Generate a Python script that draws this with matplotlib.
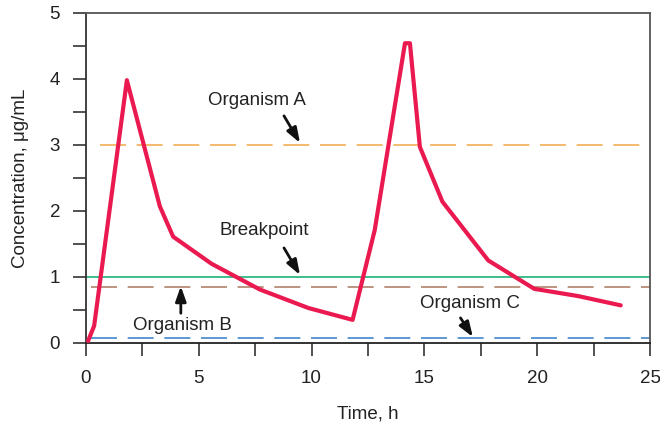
import matplotlib
matplotlib.use("Agg")
import matplotlib.pyplot as plt
import numpy as np

plt.rcParams['font.family'] = ['Liberation Sans', 'DejaVu Sans']

time_h = [0.1, 0.37, 1.82, 3.28, 3.87, 5.57, 7.71, 9.86, 11.82, 12.8, 14.14, 14.36, 14.8, 15.8, 17.83, 19.87, 21.82, 23.7]
conc = [0.03, 0.26, 3.98, 2.07, 1.61, 1.2, 0.81, 0.53, 0.35, 1.71, 4.54, 4.54, 2.97, 2.14, 1.25, 0.82, 0.71, 0.57]

level_names = ["Organism A", "Breakpoint", "Organism B", "Organism C"]
level_values = [3.0, 1.0, 0.85, 0.08]

fig = plt.figure(figsize=(6.6, 4.29), dpi=100)
ax = fig.add_axes([0.130, 0.2005, 0.855, 0.7695])

ax.set_xlim(0, 25)
ax.set_ylim(0, 5)

dash = (0, (17, 7))
ax.hlines(level_values[0], 0.65, 25, colors='#f3a847', linestyles=dash, lw=1.1)
ax.axhline(level_values[1], color='#2fb982', lw=1.3)
ax.hlines(level_values[2], 0.25, 25, colors='#a9785e', linestyles=dash, lw=1.1)
ax.hlines(level_values[3], 0.25, 25, colors='#2f7cc6', linestyles=dash, lw=1.1)

ax.plot(time_h, conc, color='#ea1a50', lw=3.0, solid_joinstyle='round', solid_capstyle='round', zorder=5)

arrowprops = dict(arrowstyle='-|>,head_length=0.9,head_width=0.32', color='#111111', lw=2.0, shrinkA=0, shrinkB=0)
fs = 13.5
tc = '#222222'
ax.text(7.6, 3.68, level_names[0], ha='center', va='center', fontsize=fs, color=tc)
ax.annotate('', xy=(9.49, 3.03), xytext=(8.78, 3.44), arrowprops=arrowprops)
ax.text(7.9, 1.71, level_names[1], ha='center', va='center', fontsize=fs, color=tc)
ax.annotate('', xy=(9.49, 1.03), xytext=(8.78, 1.44), arrowprops=arrowprops)
ax.text(4.3, 0.27, level_names[2], ha='center', va='center', fontsize=fs, color=tc)
ax.annotate('', xy=(4.21, 0.86), xytext=(4.21, 0.45), arrowprops=arrowprops)
ax.text(17.0, 0.6, level_names[3], ha='center', va='center', fontsize=fs, color=tc)
ax.annotate('', xy=(17.15, 0.09), xytext=(16.6, 0.38), arrowprops=arrowprops)

ax.set_xticks(np.arange(0, 25.1, 2.5))
ax.set_xticklabels(['0', '', '5', '', '10', '', '15', '', '20', '', '25'])
ax.set_yticks(np.arange(0, 5.01, 0.5))
ax.set_yticklabels(['0', '', '1', '', '2', '', '3', '', '4', '', '5'])
ax.tick_params(axis='x', direction='out', length=9.5, width=1.2, color='#333333', labelsize=13.5, pad=10, labelcolor=tc)
ax.tick_params(axis='y', direction='out', length=9.5, width=1.2, color='#333333', labelsize=13.5, pad=9, labelcolor=tc)

for s in ax.spines.values():
    s.set_color('#555555')
    s.set_linewidth(1.3)
ax.spines['left'].set_color('#333333')
ax.spines['bottom'].set_color('#222222')

ax.set_xlabel('Time, h', fontsize=13.5, color=tc, labelpad=13)
ax.set_ylabel('Concentration, μg/mL', fontsize=13.5, color=tc, labelpad=15)

fig.savefig('out.png', dpi=100)
